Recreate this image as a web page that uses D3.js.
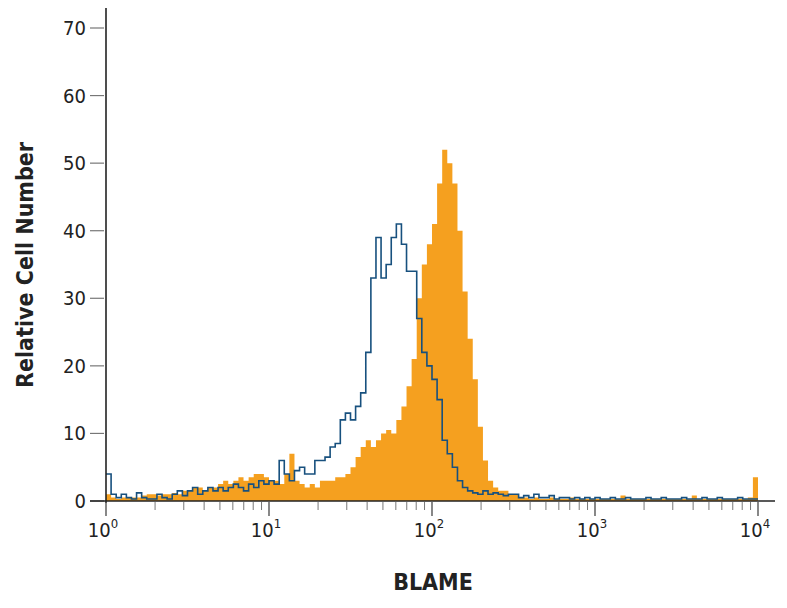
<!DOCTYPE html>
<html>
<head>
<meta charset="utf-8">
<script src="https://cdn.jsdelivr.net/npm/d3@7"></script>
<style>
  body { margin: 0; background: #fff; }
  text { font-family: "Liberation Sans Narrow", "DejaVu Sans Condensed", sans-serif; }
</style>
</head>
<body>
<svg id="chart" width="787" height="608"></svg>
<script>
// 32 bins per decade, 10^0 .. 10^4
var binsPerDecade = 32;
var yTicks = [0, 10, 20, 30, 40, 50, 60, 70];
var xDecades = [0, 1, 2, 3, 4];

var isotype = [4, 1, 0.5, 1, 0.5, 0.3, 1.2, 0.5, 0.3, 0.3, 1, 0.5, 0.3, 1, 1.5, 0.8,
  1.5, 2, 1, 1.5, 2, 1.5, 2, 1.5, 2, 2.5, 2, 1.5, 2.5, 2, 3, 2.5,
  3, 2.5, 6, 4, 3, 4.5, 5, 4, 4, 6, 6, 6.5, 8, 8.5, 12, 13,
  12, 14, 16, 22, 33, 39, 33, 35, 39, 41, 38, 34, 34, 27, 22, 20,
  18, 15, 9, 7, 5, 3, 2, 1.5, 1.2, 1, 1.5, 1, 1.2, 1, 0.8, 1,
  1, 0.5, 0.8, 0.5, 1, 0.5, 0.5, 0.8, 0.3, 0.5, 0.5, 0.3, 0.5, 0.3, 0.5, 0.3,
  0.5, 0.3, 0.3, 0.5, 0.3, 0.3, 0.5, 0.3, 0.3, 0.3, 0.5, 0.3, 0.3, 0.5, 0.3, 0.3,
  0.3, 0.5, 0.3, 0.3, 0.3, 0.5, 0.3, 0.3, 0.5, 0.3, 0.3, 0.3, 0.5, 0.3, 0.3, 0.3];

var stained = [1, 0.5, 0.3, 0.5, 0.5, 0.5, 0.5, 0.8, 1, 1, 0.8, 1, 1, 1.2, 1, 1.5,
  1.5, 2, 2, 1.5, 2, 2, 2.5, 3, 2.5, 3, 3.5, 3, 3.5, 4, 4, 3.5,
  3, 3, 2.5, 4, 7, 3, 2.5, 2, 2.5, 2, 3, 3, 3, 3.5, 3.5, 4,
  5, 6.5, 8, 9, 8, 9, 10, 10.5, 10, 12, 14, 17, 21, 30, 35, 38,
  41, 47, 52, 50, 47, 40, 31, 24, 18, 11, 6, 3, 2, 1.5, 1.5, 1,
  1, 0.5, 0.5, 0.3, 0.5, 0.3, 0.3, 0.5, 0.3, 0.3, 0.3, 0.5, 0.3, 0.3, 0.3, 0.3,
  0.3, 0.3, 0.3, 0.3, 0.3, 0.8, 0.3, 0.3, 0.3, 0.3, 0.3, 0.3, 0.3, 0.3, 0.3, 0.3,
  0.3, 0.3, 0.3, 0.8, 0.3, 0.3, 0.3, 0.3, 0.3, 0.3, 0.3, 0.3, 0.3, 0.3, 0.5, 3.5];

var svg = d3.select("#chart");

var x = d3.scaleLog().domain([1, 1e4]).range([106, 758]);
var y = d3.scaleLinear().domain([0, 70]).range([501, 28]);

function edge(i) { return Math.pow(10, i / binsPerDecade); }

function stepPoints(vals) {
  var pts = [[x(edge(0)), y(0)]];
  vals.forEach(function(v, i) {
    pts.push([x(edge(i)), y(v)]);
    pts.push([x(edge(i + 1)), y(v)]);
  });
  pts.push([x(edge(vals.length)), y(0)]);
  return pts;
}

svg.append("path")
  .attr("d", d3.line()(stepPoints(stained)) + "Z")
  .attr("fill", "#f5a01f");

svg.append("path")
  .attr("d", d3.line()(stepPoints(isotype).slice(1, -1)))
  .attr("fill", "none")
  .attr("stroke", "#17507e")
  .attr("stroke-width", 1.6);

// y axis
svg.append("line").attr("x1", 106).attr("x2", 106).attr("y1", 8).attr("y2", 503)
  .attr("stroke", "#222").attr("stroke-width", 1.6);
svg.selectAll(".ytick").data(yTicks).enter().append("line")
  .attr("x1", 90).attr("x2", 104)
  .attr("y1", function(d) { return y(d); }).attr("y2", function(d) { return y(d); })
  .attr("stroke", "#777").attr("stroke-width", 1.2);
svg.selectAll(".ylab").data(yTicks).enter().append("text")
  .attr("x", 86).attr("y", function(d) { return y(d) + 7; })
  .attr("text-anchor", "end").attr("font-size", 20).attr("fill", "#222")
  .text(function(d) { return d; });

// x axis
svg.append("line").attr("x1", 90).attr("x2", 775).attr("y1", 501).attr("y2", 501)
  .attr("stroke", "#222").attr("stroke-width", 1.6);
var minor = [];
for (var dcd = 0; dcd < 4; dcd++) for (var m = 2; m <= 9; m++) minor.push(m * Math.pow(10, dcd));
svg.selectAll(".minor").data(minor).enter().append("line")
  .attr("x1", function(d) { return x(d); }).attr("x2", function(d) { return x(d); })
  .attr("y1", 502).attr("y2", 510).attr("stroke", "#777").attr("stroke-width", 1);
svg.selectAll(".major").data(xDecades).enter().append("line")
  .attr("x1", function(d) { return x(Math.pow(10, d)); }).attr("x2", function(d) { return x(Math.pow(10, d)); })
  .attr("y1", 502).attr("y2", 516).attr("stroke", "#555").attr("stroke-width", 1.4);
var xl = svg.selectAll(".xlab").data(xDecades).enter().append("text")
  .attr("x", function(d) { return x(Math.pow(10, d)) - 3; }).attr("y", 537)
  .attr("text-anchor", "middle").attr("font-size", 20).attr("fill", "#222");
xl.append("tspan").text("10");
xl.append("tspan").attr("dy", -9).attr("font-size", 13).text(function(d) { return d; });

// titles
svg.append("text").attr("transform", "translate(33,265) rotate(-90)")
  .attr("text-anchor", "middle").attr("font-size", 23).attr("font-weight", "bold")
  .attr("fill", "#222").text("Relative Cell Number");
svg.append("text").attr("x", 433).attr("y", 590)
  .attr("text-anchor", "middle").attr("font-size", 23).attr("font-weight", "bold")
  .attr("fill", "#222").text("BLAME");
</script>
</body>
</html>
